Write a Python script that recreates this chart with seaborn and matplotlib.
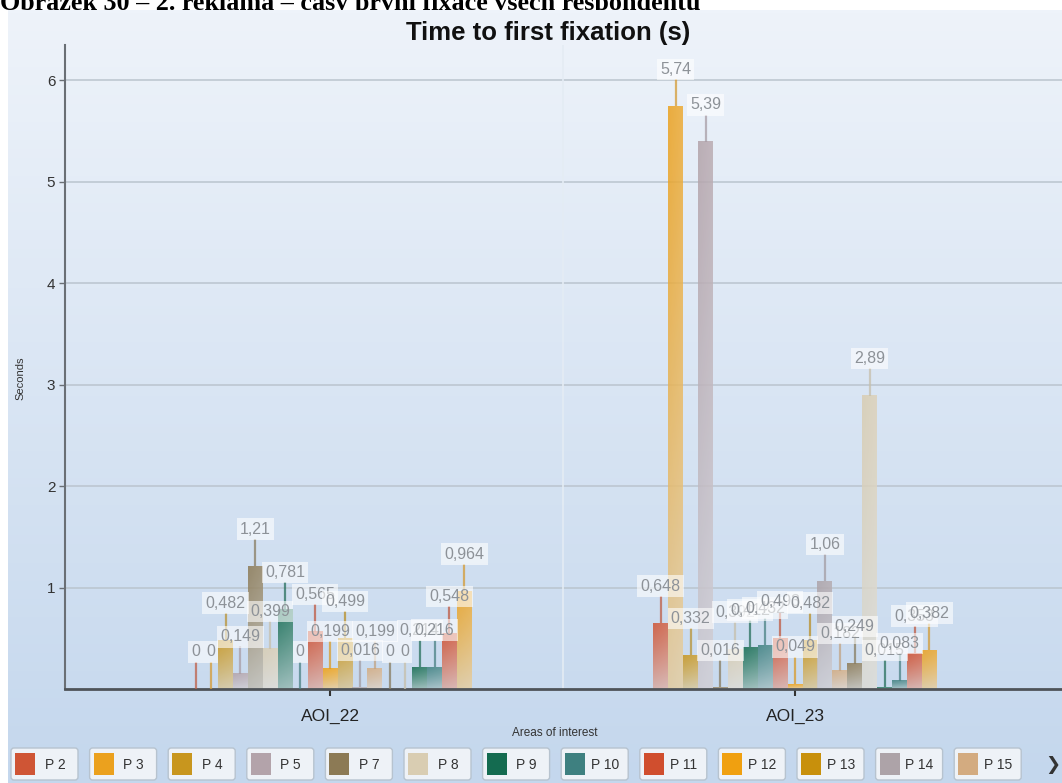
import numpy as np
import pandas as pd
import matplotlib
matplotlib.use("Agg")
import matplotlib.pyplot as plt
import seaborn as sns
from matplotlib.colors import to_rgb
from matplotlib.patches import FancyBboxPatch, Rectangle

# ---- data -------------------------------------------------------------
areas = ["AOI_22", "AOI_23"]
participants = ["P 2", "P 3", "P 4", "P 5", "P 7", "P 8", "P 9", "P 10", "P 11",
                "P 12", "P 13", "P 14", "P 15", "P 16", "P 17", "P 18", "P 19",
                "P 20", "P 21"]
aoi22_seconds = [0, 0, 0.482, 0.149, 1.21, 0.399, 0.781, 0, 0.565, 0.199, 0.499,
                 0.016, 0.199, 0, 0, 0.214, 0.216, 0.548, 0.964]
aoi23_seconds = [0.648, 5.74, 0.332, 5.39, 0.016, 0.392, 0.412, 0.432, 0.493,
                 0.049, 0.482, 1.06, 0.182, 0.249, 2.89, 0.015, 0.083, 0.353, 0.382]
participant_colors = ["#CF5535", "#EBA11E", "#C8961E", "#B3A3AA", "#8C7A55",
                      "#D9CDB2", "#146B50", "#3E8080", "#D04E2E", "#F0A010",
                      "#C8900C", "#ADA3A8", "#D3AB80", "#8C7A55", "#D9CDB2",
                      "#146B50", "#3E8080", "#D04E2E", "#EBA11E"]
legend_visible = 13  # entries shown before the scroll arrow

df = pd.DataFrame({
    "area": np.repeat(areas, len(participants)),
    "participant": participants * len(areas),
    "seconds": aoi22_seconds + aoi23_seconds,
})
palette = dict(zip(participants, participant_colors))

W, H = 1062, 783
fig = plt.figure(figsize=(W / 100, H / 100), dpi=100)
fig.patch.set_facecolor("white")

# ---- panel background (soft blue vertical gradient) --------------------
bg = fig.add_axes([8 / W, 0, 1 - 8 / W, 1 - 10 / H], zorder=-10)
top_c, bot_c = np.array(to_rgb("#EEF3FA")), np.array(to_rgb("#C4D7ED"))
t = np.linspace(0, 1, 256)[:, None]
grad = (top_c * (1 - t) + bot_c * t)[:, None, :]
bg.imshow(grad, aspect="auto", extent=[0, 1, 0, 1], origin="upper")
bg.set_axis_off()

# ---- main chart -------------------------------------------------------
ax = fig.add_axes([65 / W, 1 - 689 / H, 1 - 65 / W, (689 - 45) / H])
ax.set_facecolor("none")
sns.barplot(data=df, x="area", y="seconds", hue="participant", order=areas,
            hue_order=participants, palette=palette, width=0.61, gap=0,
            saturation=1, errorbar=None, legend=False, ax=ax, zorder=2)

x_lim = (-0.570, 1.574)
y_lim = (0, 6.345)

# gradient fill for every bar: full colour at the top, pale towards the base
pale = np.array(to_rgb("#DDE3EA"))
bars = []
for patch in ax.patches:
    col = np.array(patch.get_facecolor()[:3])
    x0, w, h = patch.get_x(), patch.get_width(), patch.get_height()
    bars.append((x0 + w / 2, h, col))
    patch.set_facecolor("none")
    patch.set_edgecolor("none")
    if h <= 0:
        continue
    tt = np.linspace(0, 1, 128)[:, None]           # 0 = base, 1 = top
    mix = 0.62 * (1 - tt) ** 1.2
    rows = col * (1 - mix) + pale * mix
    xs = np.linspace(0, 1, 16)[None, :, None]
    shade = 0.10 * xs                                # lighter towards the right
    img = rows[:, None, :] * (1 - shade) + shade
    rgba = np.concatenate([img, np.full(img.shape[:2] + (1,), 0.85)], axis=2)
    ax.imshow(rgba, extent=[x0, x0 + w, 0, h], origin="lower",
              aspect="auto", zorder=2, interpolation="bilinear")


def fmt(v):
    return "0" if v == 0 else f"{v:.3g}".replace(".", ",")


# value labels with leader lines
bars.sort(key=lambda b: b[0])
for k, (xc, v, col) in enumerate(bars):
    line_col = col * 0.8 + np.array(to_rgb("#7A8590")) * 0.2
    ax.plot([xc, xc], [v, v + 0.27], color=line_col, lw=1.6, alpha=0.75,
            zorder=3 + k * 0.01, solid_capstyle="butt")
    ax.text(xc, v + 0.365, fmt(v), ha="center", va="center", fontsize=11.5,
            color="#8D9298", family="Liberation Sans", zorder=4 + k * 0.01,
            bbox=dict(boxstyle="square,pad=0.2", fc="white", ec="none",
                      alpha=0.6))

ax.set_xlim(*x_lim)
ax.set_ylim(*y_lim)
ax.axvline(0.5, color="#E4ECF4", lw=1.2, zorder=1)
ax.set_yticks([1, 2, 3, 4, 5, 6])
ax.yaxis.grid(True, color="#BAC4CE", lw=1.1, zorder=0)
ax.xaxis.grid(False)
ax.set_axisbelow(True)
for s in ("top", "right"):
    ax.spines[s].set_visible(False)
ax.spines["left"].set_color("#6A6F75")
ax.spines["left"].set_linewidth(1.5)
ax.spines["bottom"].set_color("#4E5358")
ax.spines["bottom"].set_linewidth(2)
ax.tick_params(axis="y", length=4, width=1, color="#6A6F75", labelsize=11,
               labelcolor="#333333", pad=3)
ax.tick_params(axis="x", length=5, width=1.5, color="#333333", labelsize=12.5,
               labelcolor="#222222", pad=9)
for lab in ax.get_xticklabels() + ax.get_yticklabels():
    lab.set_family("Liberation Sans")
ax.set_xlabel("")
ax.set_ylabel("")

# ---- texts ------------------------------------------------------------
fig.text(0, 1 - 10 / H,
         "Obrázek 30 – 2. reklama – časy první fixace všech respondentů",
         ha="left", va="baseline", fontsize=18.8, fontweight="bold",
         family="Liberation Serif", color="black", zorder=-20)
fig.text(548 / W, 1 - 33 / H, "Time to first fixation (s)", ha="center",
         va="center", fontsize=18.5, fontweight="bold", family="Liberation Sans",
         color="#111111")
fig.text(555 / W, 1 - 733 / H, "Areas of interest", ha="center", va="center",
         fontsize=8.5, family="Liberation Sans", color="#333333")
fig.text(20 / W, 1 - 378 / H, "Seconds", ha="center", va="center",
         rotation=90, fontsize=8, family="Liberation Sans", color="#333333")

# ---- legend strip -----------------------------------------------------
ov = fig.add_axes([0, 0, 1, 1], zorder=5)
ov.set_xlim(0, W)
ov.set_ylim(H, 0)
ov.set_axis_off()
for i in range(legend_visible):
    x0 = 11 + i * 78.6
    ov.add_patch(FancyBboxPatch((x0, 748), 67, 32,
                                boxstyle="round,pad=0,rounding_size=3",
                                fc="#EEF2F7", ec="#B7C3CF", lw=1))
    ov.add_patch(Rectangle((x0 + 4, 753), 20, 22, fc=participant_colors[i],
                           ec="none"))
    ov.text(x0 + 44, 765, participants[i], ha="center", va="center",
            fontsize=10, family="Liberation Sans", color="#333333")
ov.text(1053, 765, "❯", ha="center", va="center", fontsize=13,
        family="DejaVu Sans", color="#333333", fontweight="bold")

fig.savefig("out.png", dpi=100)
